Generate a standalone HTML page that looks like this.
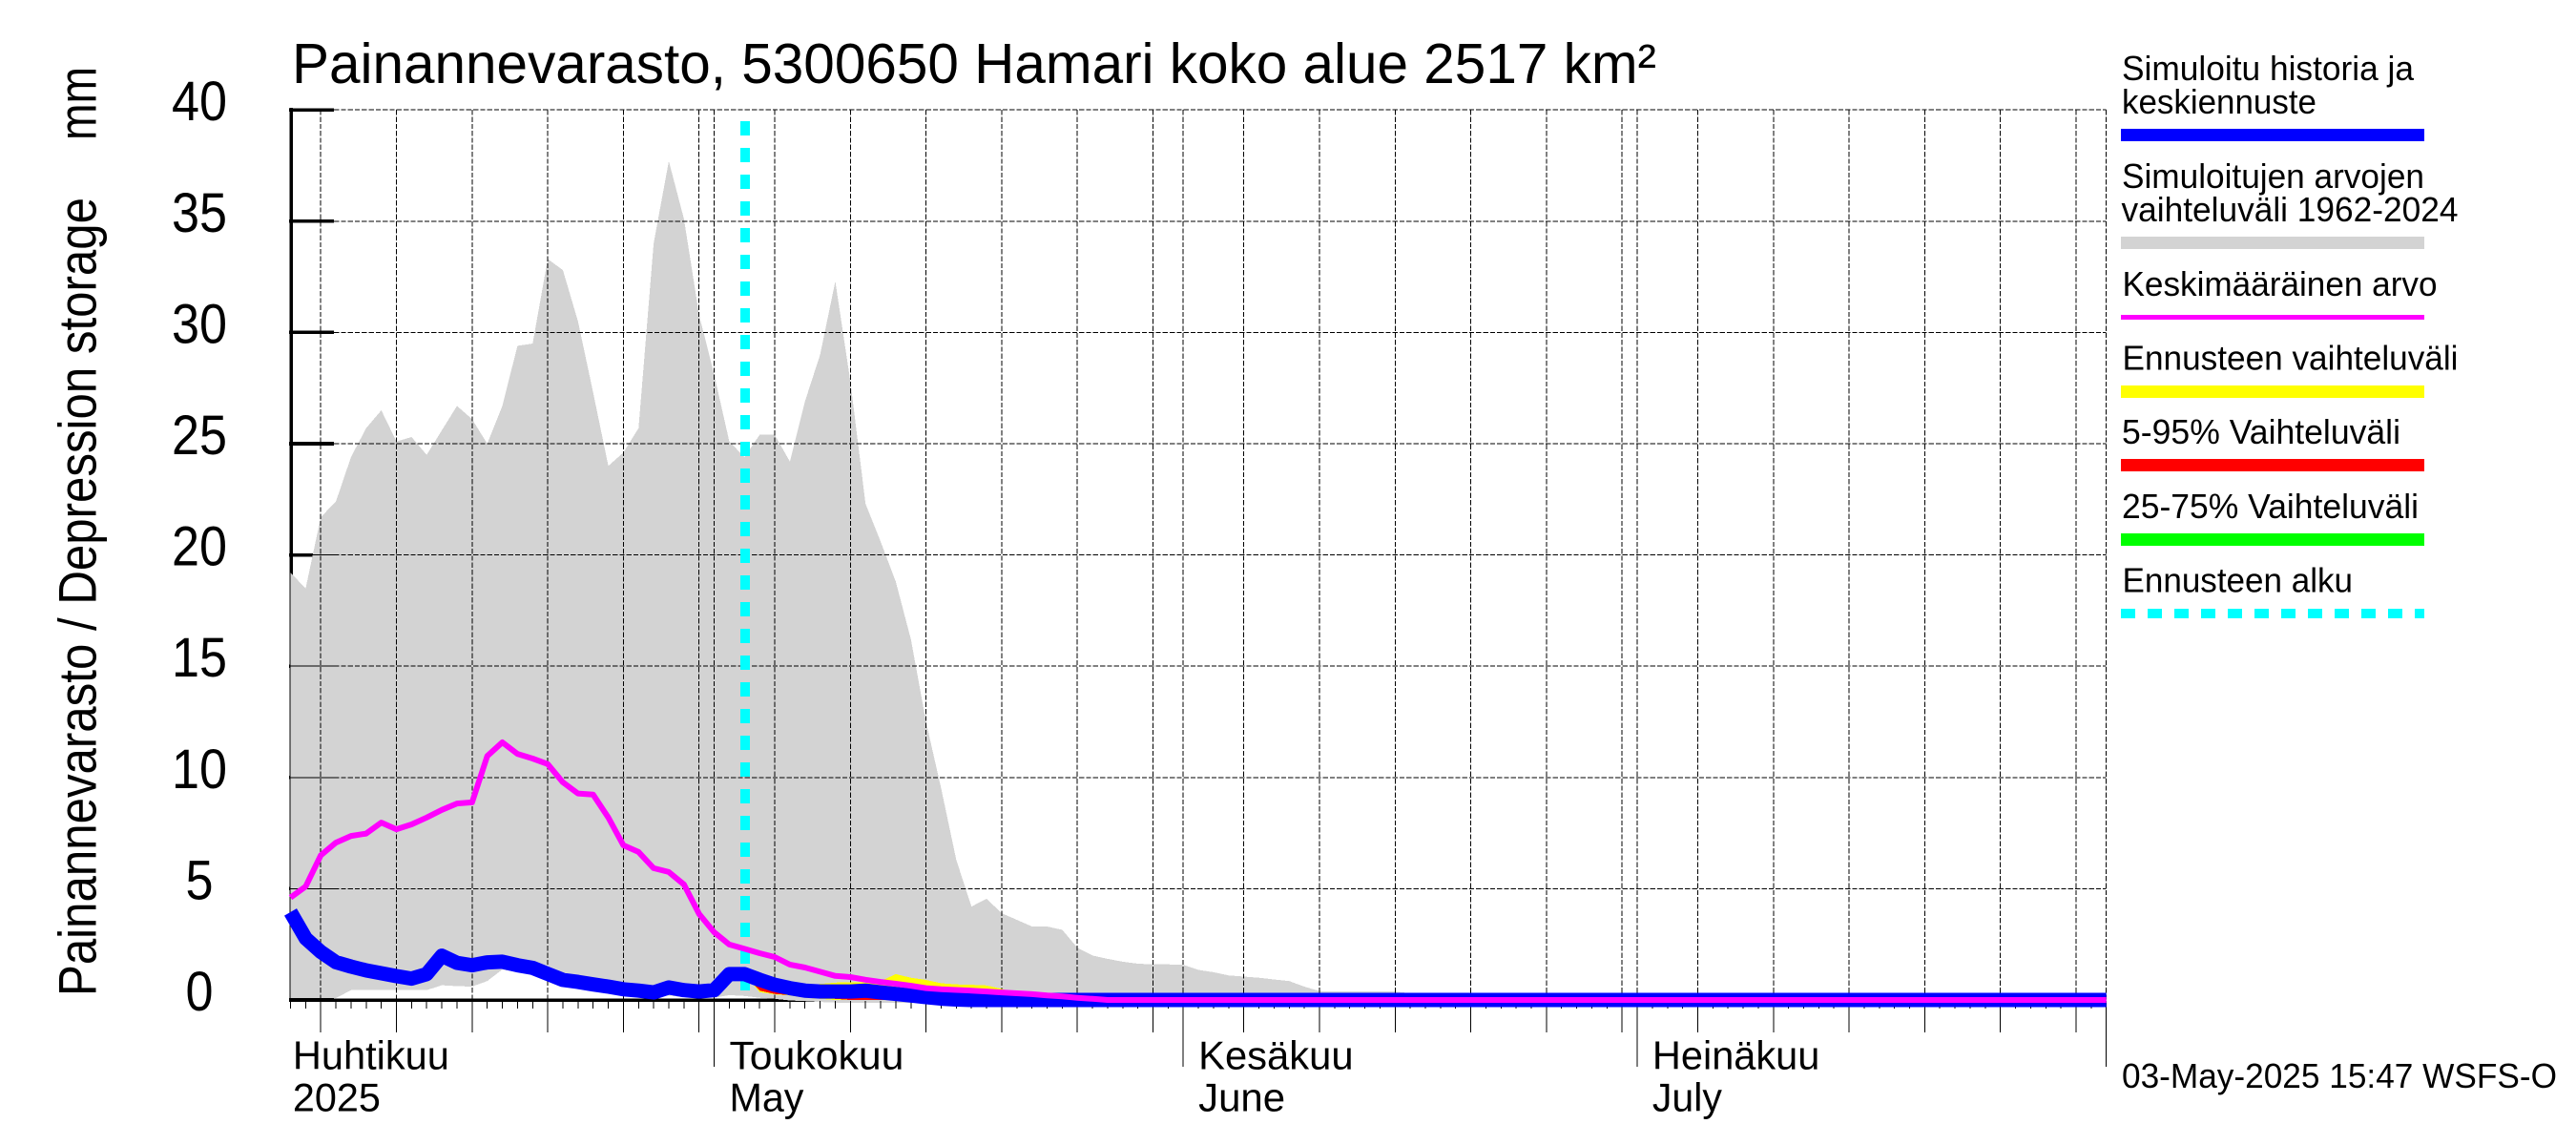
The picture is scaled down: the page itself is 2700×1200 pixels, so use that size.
<!DOCTYPE html>
<html lang="fi">
<head>
<meta charset="utf-8">
<title>Painannevarasto, 5300650 Hamari koko alue 2517 km²</title>
<style>
html,body{margin:0;padding:0;background:#fff;}
svg{display:block;}
text{font-family:"Liberation Sans",sans-serif;fill:#000;}
.shape{shape-rendering:crispEdges;}
</style>
</head>
<body>
<svg id="chart" xmlns="http://www.w3.org/2000/svg" width="2700" height="1200" viewBox="0 0 2700 1200">
  <rect x="0" y="0" width="2700" height="1200" fill="#ffffff"/>

  <g id="axis-under"></g>
  <g id="range-layer"></g>
  <g id="axis-over"></g>
  <g id="grid-layer"></g>
  <g id="start-layer"></g>
  <g id="band-layer"></g>
  <g id="line-layer"></g>
  <g id="tick-labels"></g>
  <g id="month-labels"></g>

  <text x="306" y="87" font-size="59" textLength="1430" lengthAdjust="spacingAndGlyphs">Painannevarasto, 5300650 Hamari koko alue 2517 km²</text>
  <text transform="translate(100.5 1044) rotate(-90)" font-size="56" textLength="837" lengthAdjust="spacingAndGlyphs">Painannevarasto / Depression storage</text>
  <text transform="translate(100.5 147) rotate(-90)" font-size="56" textLength="77" lengthAdjust="spacingAndGlyphs">mm</text>
  <text x="2224" y="1140" font-size="36.5" textLength="456" lengthAdjust="spacingAndGlyphs">03-May-2025 15:47 WSFS-O</text>

  <g>
    <text x="2224" y="84" font-size="36" textLength="306" lengthAdjust="spacingAndGlyphs">Simuloitu historia ja</text>
    <text x="2224" y="119" font-size="36" textLength="204" lengthAdjust="spacingAndGlyphs">keskiennuste</text>
    <rect class="shape" x="2223" y="135" width="318" height="13" fill="#0000ff"/>

    <text x="2224" y="197" font-size="36" textLength="317" lengthAdjust="spacingAndGlyphs">Simuloitujen arvojen</text>
    <text x="2223.5" y="232" font-size="36" textLength="353" lengthAdjust="spacingAndGlyphs">vaihteluväli 1962-2024</text>
    <rect class="shape" x="2223" y="248" width="318" height="13" fill="#d3d3d3"/>

    <text x="2224.5" y="310" font-size="36" textLength="330" lengthAdjust="spacingAndGlyphs">Keskimääräinen arvo</text>
    <rect class="shape" x="2223" y="330" width="318" height="5" fill="#ff00ff"/>

    <text x="2224.5" y="387.5" font-size="36" textLength="352" lengthAdjust="spacingAndGlyphs">Ennusteen vaihteluväli</text>
    <rect class="shape" x="2223" y="404" width="318" height="13" fill="#ffff00"/>

    <text x="2224" y="465" font-size="36" textLength="292" lengthAdjust="spacingAndGlyphs">5-95% Vaihteluväli</text>
    <rect class="shape" x="2223" y="481" width="318" height="13" fill="#ff0000"/>

    <text x="2224" y="543" font-size="36" textLength="311" lengthAdjust="spacingAndGlyphs">25-75% Vaihteluväli</text>
    <rect class="shape" x="2223" y="559" width="318" height="13" fill="#00ff00"/>

    <text x="2224.5" y="620.5" font-size="36" textLength="241.5" lengthAdjust="spacingAndGlyphs">Ennusteen alku</text>
    <line class="shape" x1="2223" y1="643" x2="2541" y2="643" stroke="#00ffff" stroke-width="10" stroke-dasharray="15 13"/>
  </g>
</svg>

<script>
// Daily values in mm, index 0 = 3 April 2025, index 120 = 1 August 2025.
const rangeUpper = [
  19.2,18.5,21.7,22.4,24.4,25.7,26.5,25.1,25.3,24.5,
  25.6,26.7,26.1,25.0,26.7,29.4,29.5,33.3,32.8,30.5,
  27.3,24.0,24.6,25.7,34.0,37.7,35.1,30.8,28.1,25.1,
  24.4,25.4,25.4,24.2,26.9,29.0,32.3,27.8,22.3,20.6,
  18.8,16.2,12.5,9.5,6.3,4.2,4.55,3.9,3.6,3.3,
  3.3,3.15,2.35,2.0,1.85,1.72,1.63,1.6,1.6,1.58,
  1.35,1.25,1.1,1.05,1.0,0.92,0.85,0.6,0.4,0.38,
  0.38,0.38,0.38,0.38,0.3,0.2,0,0,0,0,
  0,0,0,0,0,0,0,0,0,0,
  0,0,0,0,0,0,0,0,0,0,
  0,0,0,0,0,0,0,0,0,0,
  0,0,0,0,0,0,0,0,0,0,0
];
const rangeLower = [
  0.08,0.08,0.08,0.08,0.44,0.44,0.44,0.44,0.44,0.44,
  0.66,0.62,0.6,0.85,1.37,1.25,1.15,0.95,0.72,0.58,
  0.45,0.38,0.3,0.25,0.12,0.2,0.12,0.1,0.1,0.22,
  0.18,0.1,0.05,-0.02,-0.05,-0.09,-0.12,-0.12,-0.12,-0.12,
  -0.12,-0.12,-0.12,-0.12,-0.12,-0.12,-0.12,-0.12,-0.12,-0.12,
  -0.1,-0.1,-0.1,-0.1,-0.1,-0.1,-0.1,-0.1,-0.1,-0.1,
  -0.1,-0.1,-0.1,-0.1,-0.1,-0.1,-0.1,-0.1,-0.1,-0.1,
  -0.1,-0.1,-0.1,-0.1,-0.1,-0.1,-0.1,-0.1,-0.1,-0.1,
  -0.1,-0.1,-0.1,-0.1,-0.1,-0.1,-0.1,-0.1,-0.1,-0.1,
  -0.1,-0.1,-0.1,-0.1,-0.1,-0.1,-0.1,-0.1,-0.1,-0.1,
  -0.1,-0.1,-0.1,-0.1,-0.1,-0.1,-0.1,-0.1,-0.1,-0.1,
  -0.1,-0.1,-0.1,-0.1,-0.1,-0.1,-0.1,-0.1,-0.1,-0.1,-0.1
];
const meanSeries = [
  4.6,5.1,6.5,7.07,7.37,7.48,7.97,7.67,7.89,8.2,
  8.54,8.83,8.88,10.96,11.58,11.06,10.85,10.6,9.78,9.28,
  9.23,8.2,6.95,6.65,5.92,5.75,5.19,3.87,3.04,2.49,
  2.3,2.1,1.93,1.59,1.46,1.27,1.08,1.03,0.91,0.81,
  0.73,0.64,0.53,0.48,0.45,0.42,0.38,0.34,0.3,0.26,
  0.2,0.16,0.1,0.05,0,0,0,0,0,0,
  0,0,0,0,0,0,0,0,0,0,
  0,0,0,0,0,0,0,0,0,0,
  0,0,0,0,0,0,0,0,0,0,
  0,0,0,0,0,0,0,0,0,0,
  0,0,0,0,0,0,0,0,0,0,
  0,0,0,0,0,0,0,0,0,0,0
];
const simulatedSeries = [
  3.95,2.77,2.16,1.7,1.5,1.33,1.2,1.07,0.96,1.16,
  1.99,1.67,1.56,1.69,1.72,1.56,1.44,1.17,0.9,0.81,
  0.7,0.6,0.48,0.42,0.34,0.56,0.44,0.38,0.44,1.16,
  1.16,0.91,0.68,0.53,0.42,0.38,0.38,0.38,0.42,0.34,
  0.27,0.2,0.13,0.06,0.02,0,0,0,0,0,
  0,0,0,0,0,0,0,0,0,0,
  0,0,0,0,0,0,0,0,0,0,
  0,0,0,0,0,0,0,0,0,0,
  0,0,0,0,0,0,0,0,0,0,
  0,0,0,0,0,0,0,0,0,0,
  0,0,0,0,0,0,0,0,0,0,
  0,0,0,0,0,0,0,0,0,0,0
];
// Forecast bands start at day index 30 (3 May).
const forecastMax = [1.16,0.95,0.75,0.62,0.65,0.72,0.78,0.8,0.78,0.85,1.16,1.0,0.9,0.75,0.7,0.68,0.65,0.5,0.3,0.2,0.1,0];
const forecastMin = [1.16,0.35,0.25,0.2,0.1,0.05,0,0,0,0,0,0,0,0,0,0,0,0,0,0,0,0];
const p95Series = [1.1,0.9,0.7,0.55,0.45,0.4,0.38,0.38,0.4,0.36,0.34,0.38,0.45,0.45,0.47,0.47,0.45,0.3,0.2,0.12,0.05,0];
const p05Series = [1.1,0.42,0.27,0.22,0.15,0.1,0.05,0,0,0,0,0,0,0,0,0,0,0,0,0,0,0];
const p75Series = [1.1,0.8,0.6,0.45,0.4,0.38,0.36,0.36,0.38,0.32,0.26,0.2,0.13,0.06,0.02,0,0,0,0,0,0,0];
const p25Series = [1.1,0.7,0.5,0.4,0.35,0.3,0.3,0.3,0.3,0.28,0.2,0.12,0.05,0,0,0,0,0,0,0,0,0];
const forecastOffset = 30;
const forecastStartDay = 30.05;

const yTicks = [0,5,10,15,20,25,30,35,40];
const yTickLabels = ["0","5","10","15","20","25","30","35","40"];
const totalDays = 120;
const fiveDayTicks = [2,7,12,17,22,27,32,37,42,47,52,57,63,68,73,78,83,88,93,98,103,108,113,118];
const monthTicks = [28,59,89,120];
const monthLabelDays = [0.15,29,60,90];
const monthLabelsFi = ["Huhtikuu","Toukokuu","Kesäkuu","Heinäkuu"];
const monthLabelsEn = ["2025","May","June","July"];
const monthLabelWidthsFi = [164,183,162.5,175.5];
const monthLabelWidthsEn = [92,78,91,73];

function xScale(day){ return 304.5 + day * 15.86; }
function yScale(v){ return 1048 - v * 23.32; }

const NS = "http://www.w3.org/2000/svg";
function node(parent, tag, attrs){
  const el = document.createElementNS(NS, tag);
  for (const k in attrs) el.setAttribute(k, attrs[k]);
  parent.appendChild(el);
  return el;
}
function linePoints(values, offset){
  return values.map(function(v, i){ return xScale(i + offset).toFixed(1) + "," + yScale(v).toFixed(1); }).join(" ");
}
function areaPoints(upper, lower, offset){
  const top = upper.map(function(v, i){ return xScale(i + offset).toFixed(1) + "," + yScale(v).toFixed(1); });
  const bottom = lower.map(function(v, i){ return xScale(i + offset).toFixed(1) + "," + yScale(v).toFixed(1); }).reverse();
  return top.concat(bottom).join(" ");
}

const axisUnder = document.getElementById("axis-under");
const axisOver = document.getElementById("axis-over");
const rangeLayer = document.getElementById("range-layer");
const gridLayer = document.getElementById("grid-layer");
const startLayer = document.getElementById("start-layer");
const bandLayer = document.getElementById("band-layer");
const lineLayer = document.getElementById("line-layer");
const tickLabelLayer = document.getElementById("tick-labels");
const monthLabelLayer = document.getElementById("month-labels");

// Y axis, thick part sits below the grey band
const yAxisThick = node(axisUnder, "line", {class:"shape", x1:305, y1:yScale(40)-2, x2:305, y2:yScale(0), stroke:"#000", "stroke-width":3.5});


const xAxisThick = node(axisUnder, "line", {class:"shape", x1:303, y1:1048, x2:xScale(totalDays), y2:1048, stroke:"#000", "stroke-width":3.5});


yTicks.forEach(function(t){
  const tick = node(axisUnder, "line", {class:"shape", x1:303, y1:yScale(t), x2:350, y2:yScale(t), stroke:"#000", "stroke-width":3.6});
  
  
});

// Historical range
const rangeArea = node(rangeLayer, "polygon", {class:"shape", points:areaPoints(rangeUpper, rangeLower, 0), fill:"#d3d3d3"});



// Thin ticks remain visible over the band
yTicks.forEach(function(t){
  if (t === 0) return;
  const tick = node(axisOver, "line", {class:"shape", x1:304, y1:yScale(t), x2:350, y2:yScale(t), stroke:"#000", "stroke-width":1});
  
  
});

// Horizontal grid
yTicks.forEach(function(t){
  if (t === 0) return;
  const g = node(gridLayer, "line", {class:"shape", x1:350, y1:yScale(t), x2:xScale(totalDays), y2:yScale(t), stroke:"#000", "stroke-width":1, "stroke-dasharray":"5.3 2"});
  
  
});
// Vertical grid and x ticks
fiveDayTicks.concat(monthTicks).forEach(function(d){
  const g = node(gridLayer, "line", {class:"shape", x1:xScale(d), y1:yScale(40), x2:xScale(d), y2:yScale(0), stroke:"#000", "stroke-width":1, "stroke-dasharray":"5.3 2"});
  
  
});
for (let d = 0; d <= totalDays; d++){
  const minor = node(axisOver, "line", {class:"shape", x1:xScale(d), y1:1049, x2:xScale(d), y2:1057, stroke:"#000", "stroke-width":1});
  
  
}
fiveDayTicks.forEach(function(d){
  const major = node(axisOver, "line", {class:"shape", x1:xScale(d), y1:1049, x2:xScale(d), y2:1082, stroke:"#000", "stroke-width":1});
  
  
});
monthTicks.forEach(function(d){
  const month = node(axisOver, "line", {class:"shape", x1:xScale(d), y1:1049, x2:xScale(d), y2:1118, stroke:"#000", "stroke-width":1});
  
  
});

// Forecast start marker
const startLine = node(startLayer, "line", {class:"shape", x1:xScale(forecastStartDay), y1:127, x2:xScale(forecastStartDay), y2:yScale(0), stroke:"#00ffff", "stroke-width":10, "stroke-dasharray":"15 13"});



// Forecast bands
const yellowBand = node(bandLayer, "polygon", {class:"shape", points:areaPoints(forecastMax, forecastMin, forecastOffset), fill:"#ffff00"});


const redBand = node(bandLayer, "polygon", {class:"shape", points:areaPoints(p95Series, p05Series, forecastOffset), fill:"#ff0000"});


const greenBand = node(bandLayer, "polygon", {class:"shape", points:areaPoints(p75Series, p25Series, forecastOffset), fill:"#00ff00"});



// Lines
const simLine = node(lineLayer, "polyline", {points:linePoints(simulatedSeries, 0), fill:"none", stroke:"#0000ff", "stroke-width":15, "stroke-linejoin":"round", "stroke-linecap":"butt"});


const meanLine = node(lineLayer, "polyline", {points:linePoints(meanSeries, 0), fill:"none", stroke:"#ff00ff", "stroke-width":6, "stroke-linejoin":"round", "stroke-linecap":"butt"});



// Y tick labels
yTicks.forEach(function(t, i){
  const label = node(tickLabelLayer, "text", {x:209, y:yScale(t)+11, "font-size":58, "text-anchor":"middle", textLength:yTickLabels[i].length*29, lengthAdjust:"spacingAndGlyphs"});
  label.textContent = yTickLabels[i];
  
  
});

// Month labels
monthLabelDays.forEach(function(d, i){
  const fi = node(monthLabelLayer, "text", {x:xScale(d), y:1120.5, "font-size":42, textLength:monthLabelWidthsFi[i], lengthAdjust:"spacingAndGlyphs"});
  fi.textContent = monthLabelsFi[i];
  
  
  const en = node(monthLabelLayer, "text", {x:xScale(d), y:1164.5, "font-size":42, textLength:monthLabelWidthsEn[i], lengthAdjust:"spacingAndGlyphs"});
  en.textContent = monthLabelsEn[i];
  
  
});
</script>
</body>
</html>
